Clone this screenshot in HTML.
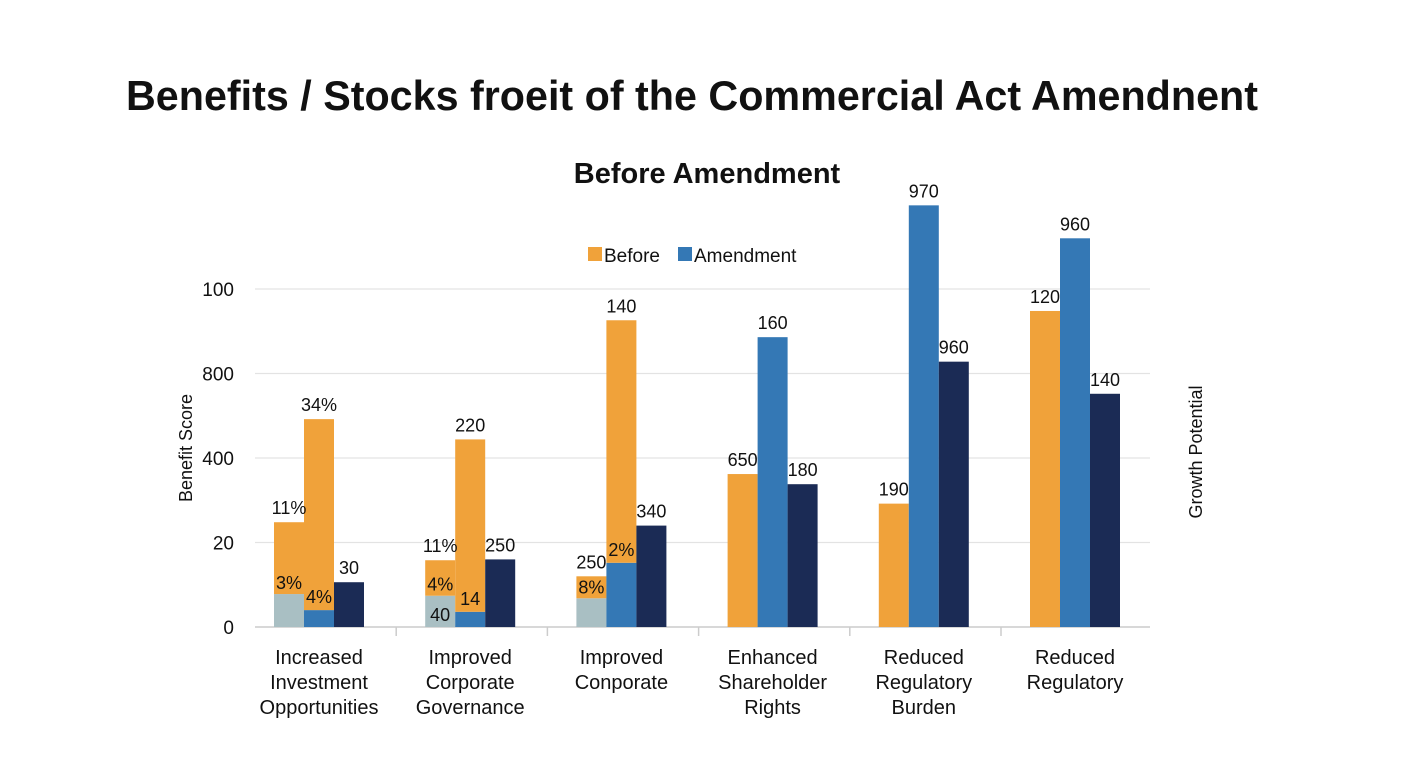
<!DOCTYPE html>
<html><head><meta charset="utf-8"><style>
body{margin:0;background:#fff;font-family:"Liberation Sans",sans-serif}
svg text{font-family:"Liberation Sans",sans-serif;fill:#111}
</style></head><body>
<svg id="c" width="1408" height="768">
<text x="126" y="110" font-size="42" font-weight="bold" textLength="1132" lengthAdjust="spacingAndGlyphs">Benefits / Stocks froeit of the Commercial Act Amendnent</text>
<text x="707" y="183" font-size="29" font-weight="bold" text-anchor="middle">Before Amendment</text>
<g>
<rect x="588" y="247" width="14" height="14" fill="#F0A23A"/>
<text x="604" y="262" font-size="19">Before</text>
<rect x="678" y="247" width="14" height="14" fill="#3478B5"/>
<text x="694" y="262" font-size="19">Amendment</text>
</g>
<text transform="translate(192,448) rotate(-90)" font-size="18" text-anchor="middle">Benefit Score</text>
<text transform="translate(1202,452) rotate(-90)" font-size="18" text-anchor="middle">Growth Potential</text>
</svg>
<script>
const categories=[["Increased","Investment","Opportunities"],["Improved","Corporate","Governance"],["Improved","Conporate"],["Enhanced","Shareholder","Rights"],["Reduced","Regulatory","Burden"],["Reduced","Regulatory"]];
const tickLabels=["0","20","400","800","100"];
const grayVals=[0.39,0.37,0.34,0,0,0];
const orange1Vals=[0.85,0.42,0.26,1.81,1.46,3.74];
const blueVals=[0.2,0.18,0.76,3.43,4.99,4.6];
const orange2Vals=[2.26,2.04,2.87,0,0,0];
const darkVals=[0.53,0.8,1.2,1.69,3.14,2.76];
const bar1Labels=["11%","11%","250","650","190","120"];
const bar2Labels=["34%","220","140","160","970","960"];
const bar3Labels=["30","250","340","180","960","140"];
const innerLabels1=["3%","4%","8%","","",""];
const grayLabels=["","40","","","",""];
const innerLabels2=["4%","14","2%","","",""];

const svg=document.getElementById('c');
const NS='http://www.w3.org/2000/svg';
const y=v=>627-v*84.5;
const gx=i=>274+i*151.2;
const BW=30;
function mk(t,a,txt){const e=document.createElementNS(NS,t);for(const k in a)e.setAttribute(k,a[k]);if(txt!==undefined)e.textContent=txt;svg.appendChild(e);return e;}
tickLabels.forEach((t,i)=>{
  if(i>0){const g=mk('line',{x1:255,x2:1150,y1:y(i),y2:y(i),stroke:'#e3e3e3','stroke-width':1.2});
  
  }
  const l=mk('text',{x:234,y:y(i)+7,'font-size':19,'text-anchor':'end'},t);
  
  
});
const ax=mk('line',{x1:255,x2:1150,y1:627,y2:627,stroke:'#ccc','stroke-width':1.5});


for(let i=1;i<6;i++){const tk=mk('line',{x1:gx(i)-29,x2:gx(i)-29,y1:627,y2:636,stroke:'#ccc','stroke-width':1.5});

}
function bar(x,v0,v1,col,name){if(v1<=0)return;const r=mk('rect',{x:x,y:y(v0+v1),width:BW,height:v1*84.5,fill:col});

}
function lab(x,yy,t,name){if(!t)return;const e=mk('text',{x:x,y:yy,'font-size':18,'text-anchor':'middle'},t);

}
categories.forEach((c,i)=>{
  const x=gx(i);
  bar(x,0,grayVals[i],'#A9BFC3','bar-gray');
  bar(x,grayVals[i],orange1Vals[i],'#F0A23A','bar-before');
  bar(x+BW,0,blueVals[i],'#3478B5','bar-amendment');
  bar(x+BW,blueVals[i],orange2Vals[i],'#F0A23A','bar-before-stack');
  bar(x+2*BW,0,darkVals[i],'#1B2B55','bar-growth');
  lab(x+BW/2,y(grayVals[i]+orange1Vals[i])-8,bar1Labels[i],'bar1-label');
  lab(x+1.5*BW,y(blueVals[i]+orange2Vals[i])-8,bar2Labels[i],'bar2-label');
  lab(x+2.5*BW,y(darkVals[i])-8,bar3Labels[i],'bar3-label');
  lab(x+BW/2,y(grayVals[i])-5,innerLabels1[i],'inner-label');
  lab(x+BW/2,y(0)-6,grayLabels[i],'inner-label');
  lab(x+1.5*BW,y(blueVals[i])-7,innerLabels2[i],'inner-label');
  c.forEach((ln,j)=>{const t=mk('text',{x:x+1.5*BW,y:664+j*25,'font-size':20,'text-anchor':'middle'},ln);
  
  });
});
</script>
</body></html>
